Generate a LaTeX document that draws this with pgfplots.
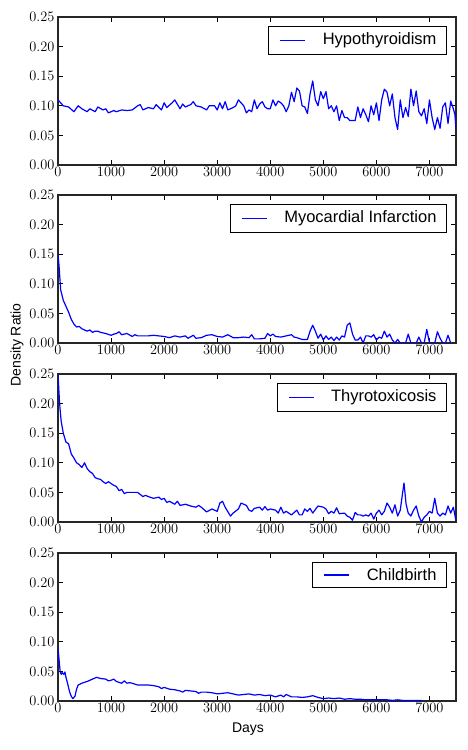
\documentclass[border=0pt]{standalone}
\usepackage{pgfplots}
\pgfplotsset{compat=1.18}
\usepackage{fontspec}
\setmainfont{Liberation Sans}
\definecolor{legblue}{rgb}{0,0,1}

\pgfplotsset{
  panel/.style={
    scale only axis, width=398pt, height=148pt,
    xmin=0, xmax=7500, ymin=0, ymax=0.25,
    xtick={0,1000,2000,3000,4000,5000,6000,7000},
    ytick={0,0.05,0.1,0.15,0.2,0.25},
    scaled x ticks=false, scaled y ticks=false,
    xticklabel style={/pgf/number format/1000 sep={}, font=\fontsize{14.5}{14.5}\selectfont},
    yticklabel style={/pgf/number format/fixed, /pgf/number format/precision=2, /pgf/number format/fixed zerofill, font=\fontsize{14.5}{14.5}\selectfont},
    tick align=inside, major tick length=5pt,
    tick style={black, line width=0.6pt},
    axis line style={black!85, line width=1.1pt},
    xtick pos=both, ytick pos=both,
    x tick label style={yshift=1pt},
  },
}
\newcommand{\mylegend}[1]{%
  \node[draw=black, line width=1pt, fill=white, anchor=north east,
        inner xsep=10pt, inner ysep=6.5pt, font=\fontsize{16.5}{17}\selectfont]
        (leg) at ([xshift=-9pt,yshift=-9pt]rel axis cs:1,1) {\hspace*{44pt}#1};
  \fill[draw=none, fill=legblue] ([xshift=12pt,yshift=-0.75pt]leg.west) rectangle ([xshift=37pt,yshift=0.75pt]leg.west);
}

\begin{document}
\begin{tikzpicture}
\path[use as bounding box] (0,0) rectangle (468pt,750pt);

% Panel 1
\begin{axis}[panel, at={(58pt,585pt)}, anchor=south west]
\addplot[blue, line width=1.2pt, line join=round] coordinates {
(0,0.110)(100,0.100)(200,0.098)(300,0.090)(380,0.100)(450,0.095)(550,0.090)(600,0.095)(700,0.090)(750,0.098)
(850,0.093)(900,0.095)(950,0.088)(1050,0.092)(1100,0.090)(1200,0.093)(1300,0.092)(1400,0.093)(1500,0.100)(1550,0.102)
(1600,0.093)(1700,0.097)(1800,0.095)(1850,0.102)(1950,0.093)(2000,0.105)(2050,0.097)(2150,0.105)(2200,0.110)(2300,0.095)
(2350,0.103)(2400,0.098)(2500,0.102)(2550,0.107)(2600,0.100)(2700,0.098)(2800,0.093)(2850,0.100)(2950,0.100)(3000,0.093)
(3050,0.105)(3100,0.095)(3150,0.107)(3200,0.093)(3300,0.097)(3350,0.100)(3400,0.110)(3450,0.105)(3500,0.100)(3550,0.088)
(3600,0.093)(3650,0.090)(3700,0.110)(3750,0.095)(3800,0.103)(3850,0.107)(3900,0.098)(3950,0.095)(4000,0.095)(4050,0.110)
(4100,0.100)(4150,0.108)(4200,0.105)(4250,0.100)(4300,0.090)(4350,0.100)(4400,0.123)(4450,0.107)(4500,0.130)(4550,0.125)
(4600,0.100)(4650,0.098)(4700,0.087)(4750,0.120)(4800,0.142)(4850,0.110)(4900,0.100)(4950,0.124)(5000,0.112)(5050,0.124)
(5100,0.095)(5150,0.100)(5200,0.090)(5250,0.100)(5300,0.075)(5350,0.092)(5400,0.080)(5450,0.080)(5500,0.075)(5550,0.075)
(5600,0.075)(5650,0.098)(5700,0.080)(5750,0.095)(5800,0.085)(5850,0.073)(5900,0.100)(5950,0.085)(6000,0.105)(6050,0.075)
(6100,0.110)(6150,0.128)(6200,0.123)(6250,0.100)(6300,0.120)(6350,0.080)(6400,0.060)(6450,0.110)(6500,0.080)(6550,0.097)
(6600,0.082)(6650,0.128)(6700,0.100)(6750,0.125)(6800,0.090)(6850,0.083)(6900,0.095)(6950,0.070)(7000,0.110)(7050,0.080)
(7100,0.060)(7150,0.080)(7200,0.062)(7250,0.098)(7300,0.105)(7350,0.070)(7400,0.108)(7450,0.095)(7480,0.085)(7500,0.060)
};
\mylegend{Hypothyroidism}
\end{axis}

% Panel 2
\begin{axis}[panel, at={(58pt,407pt)}, anchor=south west]
\addplot[blue, line width=1.2pt, line join=round] coordinates {
(0,0.150)(20,0.130)(50,0.090)(100,0.072)(150,0.062)(200,0.052)(250,0.040)(300,0.032)(350,0.027)(400,0.028)
(450,0.024)(500,0.022)(550,0.020)(600,0.022)(650,0.018)(700,0.020)(750,0.020)(800,0.018)(900,0.016)(1000,0.013)
(1050,0.015)(1100,0.016)(1150,0.019)(1200,0.014)(1300,0.016)(1400,0.011)(1450,0.014)(1500,0.012)(1600,0.012)(1700,0.012)
(1800,0.013)(1900,0.012)(2000,0.011)(2100,0.009)(2200,0.012)(2300,0.010)(2400,0.012)(2450,0.008)(2550,0.013)(2600,0.008)
(2700,0.009)(2800,0.013)(2900,0.014)(3000,0.011)(3100,0.010)(3200,0.014)(3300,0.009)(3400,0.009)(3500,0.010)(3600,0.009)
(3650,0.014)(3700,0.007)(3800,0.007)(3900,0.008)(3950,0.016)(4000,0.012)(4050,0.015)(4100,0.011)(4200,0.010)(4300,0.012)
(4400,0.014)(4450,0.010)(4500,0.009)(4600,0.006)(4700,0.006)(4750,0.020)(4800,0.030)(4850,0.020)(4900,0.008)(4950,0.015)
(5000,0.005)(5050,0.012)(5100,0.006)(5150,0.010)(5200,0.004)(5250,0.010)(5300,0.005)(5350,0.012)(5400,0.010)(5450,0.030)
(5500,0.034)(5550,0.015)(5600,0.005)(5650,0.005)(5700,0.010)(5750,0.000)(5800,0.012)(5850,0.012)(5900,0.010)(5950,0.014)
(6000,0.005)(6050,0.010)(6100,0.008)(6150,0.020)(6200,0.010)(6250,0.015)(6300,0.005)(6350,0.000)(6400,0.006)(6450,0.000)
(6550,0.000)(6600,0.015)(6650,0.000)(6750,0.000)(6800,0.010)(6850,0.000)(6900,0.000)(6950,0.023)(7000,0.000)(7100,0.000)
(7150,0.019)(7200,0.008)(7250,0.000)(7300,0.000)(7350,0.013)(7400,0.000)
};
\mylegend{Myocardial Infarction}
\end{axis}

% Panel 3
\begin{axis}[panel, at={(58pt,228pt)}, anchor=south west]
\addplot[blue, line width=1.2pt, line join=round] coordinates {
(0,0.250)(30,0.200)(60,0.170)(100,0.150)(150,0.135)(200,0.132)(250,0.115)(300,0.108)(350,0.100)(400,0.097)
(450,0.092)(500,0.100)(550,0.090)(600,0.085)(650,0.082)(700,0.075)(750,0.073)(800,0.072)(850,0.068)(900,0.065)
(950,0.068)(1000,0.065)(1050,0.062)(1100,0.060)(1150,0.053)(1200,0.055)(1250,0.048)(1300,0.050)(1400,0.050)(1500,0.050)
(1600,0.043)(1650,0.045)(1700,0.043)(1800,0.040)(1900,0.042)(1950,0.038)(2000,0.040)(2050,0.033)(2100,0.035)(2200,0.030)
(2250,0.035)(2300,0.028)(2400,0.030)(2500,0.027)(2600,0.025)(2650,0.028)(2700,0.025)(2800,0.017)(2900,0.022)(3000,0.018)
(3050,0.032)(3100,0.035)(3150,0.025)(3250,0.010)(3300,0.015)(3400,0.022)(3450,0.032)(3500,0.030)(3550,0.028)(3600,0.020)
(3650,0.018)(3700,0.023)(3800,0.025)(3850,0.020)(3900,0.026)(3950,0.020)(4000,0.022)(4100,0.020)(4150,0.015)(4200,0.025)
(4250,0.015)(4300,0.018)(4400,0.012)(4500,0.020)(4550,0.012)(4600,0.012)(4650,0.022)(4700,0.018)(4750,0.023)(4800,0.015)
(4900,0.027)(5000,0.025)(5050,0.022)(5100,0.014)(5150,0.018)(5200,0.015)(5250,0.024)(5300,0.014)(5400,0.015)(5450,0.010)
(5500,0.008)(5550,0.003)(5600,0.016)(5650,0.012)(5700,0.012)(5750,0.010)(5800,0.012)(5850,0.010)(5900,0.015)(5950,0.005)
(6000,0.015)(6050,0.020)(6100,0.012)(6150,0.018)(6200,0.032)(6250,0.025)(6300,0.015)(6350,0.029)(6400,0.010)(6450,0.020)
(6480,0.040)(6520,0.066)(6560,0.030)(6600,0.015)(6650,0.010)(6700,0.020)(6750,0.027)(6800,0.010)(6850,0.000)(6900,0.008)
(6950,0.012)(7000,0.018)(7050,0.015)(7100,0.040)(7150,0.015)(7200,0.010)(7250,0.015)(7300,0.012)(7350,0.027)(7400,0.015)
(7450,0.025)(7500,0.002)
};
\mylegend{Thyrotoxicosis}
\end{axis}

% Panel 4
\begin{axis}[panel, at={(58pt,49pt)}, anchor=south west]
\addplot[blue, line width=1.2pt, line join=round] coordinates {
(0,0.090)(20,0.070)(40,0.050)(60,0.045)(80,0.048)(110,0.045)(130,0.049)(150,0.040)(180,0.030)(220,0.015)
(250,0.008)(280,0.004)(320,0.008)(350,0.020)(380,0.027)(450,0.030)(550,0.033)(650,0.037)(730,0.040)(800,0.038)
(900,0.037)(950,0.034)(1000,0.035)(1050,0.037)(1100,0.033)(1200,0.030)(1250,0.034)(1300,0.030)(1350,0.031)(1400,0.030)
(1500,0.027)(1600,0.027)(1700,0.027)(1800,0.026)(1900,0.024)(1950,0.021)(2000,0.023)(2100,0.020)(2200,0.019)(2300,0.017)
(2350,0.015)(2400,0.018)(2500,0.017)(2600,0.016)(2650,0.013)(2700,0.015)(2800,0.015)(2900,0.014)(3000,0.012)(3100,0.013)
(3200,0.014)(3300,0.012)(3400,0.010)(3500,0.011)(3600,0.012)(3700,0.010)(3800,0.011)(3900,0.009)(4000,0.010)(4100,0.007)
(4200,0.010)(4250,0.007)(4300,0.011)(4400,0.007)(4500,0.007)(4600,0.006)(4700,0.007)(4800,0.009)(4900,0.006)(5000,0.004)
(5100,0.005)(5200,0.004)(5300,0.005)(5400,0.003)(5500,0.004)(5600,0.003)(5700,0.003)(5800,0.002)(5900,0.002)(6000,0.002)
(6100,0.002)(6200,0.002)(6300,0.001)(6400,0.002)(6500,0.001)(6600,0.001)(6700,0.001)(6800,0.001)(6850,0.001)
};
\mylegend{Childbirth}
\end{axis}

\node[rotate=90, font=\fontsize{14}{14}\selectfont] at (17pt,405pt) {Density Ratio};
\node[font=\fontsize{14}{14}\selectfont] at (248pt,21pt) {Days};
\end{tikzpicture}
\end{document}
